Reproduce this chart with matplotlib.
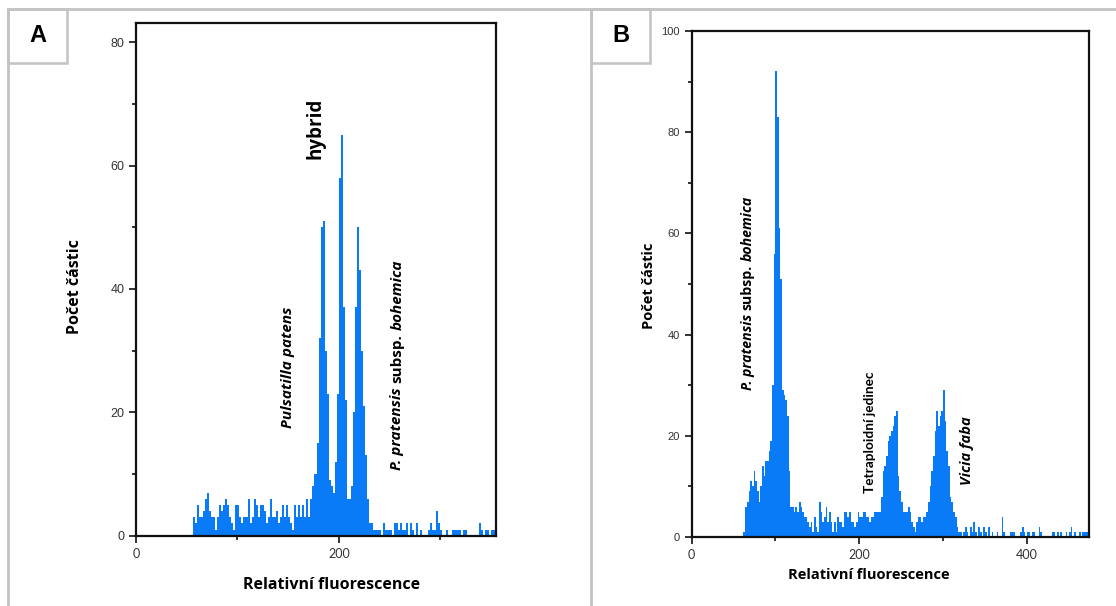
import matplotlib
matplotlib.use("Agg")
import matplotlib.pyplot as plt
import numpy as np
from matplotlib.transforms import offset_copy
from matplotlib.lines import Line2D
from matplotlib.patches import Rectangle

# ---------------------------------------------------------------- data
# Panel A: particle counts per fluorescence channel (bins of width 2 from 56)
a_start = 56
a_bin = 2
counts_a = [
    3, 2, 5, 3, 3, 4, 6, 7, 4, 3,
    3, 1, 3, 5, 4, 5, 6, 5, 3, 2,
    1, 5, 5, 3, 2, 3, 3, 6, 2, 3,
    6, 5, 3, 5, 5, 4, 2, 3, 6, 3,
    3, 4, 2, 3, 5, 3, 5, 3, 2, 1,
    5, 3, 5, 3, 5, 3, 6, 3, 6, 8,
    10, 15, 32, 50, 51, 30, 23, 9, 8, 7,
    12, 23, 58, 65, 37, 22, 6, 6, 8, 20,
    37, 50, 43, 30, 21, 13, 6, 2, 2, 1,
    1, 1, 1, 0, 2, 1, 1, 1, 0, 2,
    2, 1, 2, 1, 1, 2, 0, 2, 1, 0,
    2, 0, 1, 0, 0, 0, 1, 2, 1, 1,
    4, 2, 1, 0, 0, 1, 0, 0, 1, 1,
    1, 1, 0, 1, 1, 0, 0, 0, 0, 0,
    0, 2, 1, 0, 1, 1, 0, 1, 1,
]

# Panel B: particle counts per fluorescence channel (bins of width 2 from 62)
b_start = 62
b_bin = 2
counts_b = [
    1, 6, 7, 9, 11, 10, 13, 11, 9, 7,
    10, 14, 12, 15, 15, 17, 19, 30, 56, 92,
    83, 61, 51, 29, 28, 27, 24, 13, 6, 6,
    5, 6, 5, 7, 6, 5, 4, 4, 3, 2,
    3, 1, 4, 2, 1, 7, 5, 3, 4, 6,
    3, 5, 3, 1, 3, 1, 4, 3, 3, 2,
    5, 5, 4, 5, 3, 3, 2, 3, 5, 4,
    4, 5, 5, 4, 4, 3, 4, 4, 5, 5,
    5, 5, 8, 13, 14, 16, 19, 20, 21, 22,
    24, 25, 12, 9, 7, 5, 5, 5, 6, 5,
    3, 2, 1, 3, 4, 4, 3, 4, 4, 5,
    7, 10, 13, 16, 21, 25, 22, 24, 25, 29,
    23, 17, 14, 8, 7, 5, 4, 2, 1, 1,
    0, 1, 2, 1, 0, 2, 1, 3, 1, 0,
    2, 1, 0, 2, 1, 0, 2, 0, 1, 0,
    0, 1, 0, 0, 4, 1, 0, 0, 0, 1,
    1, 1, 0, 0, 0, 1, 2, 1, 0, 1,
    1, 0, 1, 1, 0, 0, 2, 1, 0, 0,
    0, 0, 0, 0, 1, 1, 0, 1, 0, 1,
    0, 0, 1, 0, 1, 2, 0, 1, 0, 0,
    1, 0, 1, 1, 1, 1,
]

xlabel_text = "Relativní fluorescence"
ylabel_text = "Počet částic"
a_xticks = [0, 200]
a_yticks = [0, 20, 40, 60, 80]
b_xticks = [0, 200, 400]
b_yticks = [0, 20, 40, 60, 80, 100]

# ---------------------------------------------------------------- style
W, H = 1116, 606
BLUE = "#0a7bf7"
FRAME = "#c3c3c3"
TICKCOL = "#333333"
LABEL_FONT = ["Open Sans", "DejaVu Sans"]
NOTE_FONT = ["Open Sans", "DejaVu Sans"]
NARROW_FONT = ["Lato", "DejaVu Sans"]

fig = plt.figure(figsize=(W / 100, H / 100), dpi=100)
fig.patch.set_facecolor("white")


def fx(px):
    return px / W


def fy(py):
    return 1 - py / H


# outer panel frames
for (x0, y0, x1, y1) in [(8, 9, 1116, 9), (8, 9, 8, 606), (591, 9, 591, 606)]:
    fig.add_artist(Line2D([fx(x0), fx(x1)], [fy(y0), fy(y1)],
                          transform=fig.transFigure, color=FRAME, lw=2))

# panel letter boxes
for letter, (x0, y0, x1, y1) in [("A", (8, 9, 67, 63)), ("B", (591, 9, 650, 63))]:
    fig.add_artist(Rectangle((fx(x0), fy(y1)), fx(x1) - fx(x0), fy(y0) - fy(y1),
                             transform=fig.transFigure, facecolor="white",
                             edgecolor=FRAME, lw=1.8))
    fig.text(fx((x0 + x1) / 2), fy((y0 + y1) / 2), letter, ha="center", va="center",
             fontsize=17, fontweight="bold", family=["Liberation Sans", "DejaVu Sans"])

axA = fig.add_axes([fx(136), fy(535.7), fx(496) - fx(136), fy(23) - fy(535.7)])
axB = fig.add_axes([fx(691.5), fy(537), fx(1089) - fx(691.5), fy(31) - fy(537)])

edges_a = a_start + a_bin * np.arange(len(counts_a))
axA.bar(edges_a, counts_a, width=a_bin, align="edge", color=BLUE, linewidth=0)
edges_b = b_start + b_bin * np.arange(len(counts_b))
axB.bar(edges_b, counts_b, width=b_bin, align="edge", color=BLUE, linewidth=0)

axA.set_xlim(0, 355)
axA.set_ylim(0, 83.1)
axA.set_xticks(a_xticks)
axA.set_xticks([100, 300], minor=True)
axA.set_yticks(a_yticks)
axA.set_yticks([10, 30, 50, 70], minor=True)

axB.set_xlim(0, 474)
axB.set_ylim(0, 100)
axB.set_xticks(b_xticks)
axB.set_xticks([100, 300], minor=True)
axB.set_yticks(b_yticks)
axB.set_yticks([10, 30, 50, 70, 90], minor=True)

for ax, fs in [(axA, 9), (axB, 8)]:
    for sp in ax.spines.values():
        sp.set_linewidth(1.6)
        sp.set_color("#111111")
    ax.tick_params(which="major", direction="out", length=5, width=1.2,
                   colors="#111111", labelcolor=TICKCOL)
    ax.tick_params(which="minor", direction="out", length=3, width=1.2, colors="#111111")
    for lab in ax.get_yticklabels():
        lab.set_fontfamily(["Liberation Sans", "DejaVu Sans"])
        lab.set_fontsize(fs)
    for lab in ax.get_xticklabels():
        lab.set_fontfamily(NARROW_FONT)
        lab.set_fontsize(9)

# axis titles
axA.set_xlabel(xlabel_text, fontsize=11.5, fontweight="bold", family=LABEL_FONT)
axA.set_ylabel(ylabel_text, fontsize=11.5, fontweight="bold", family=LABEL_FONT)
axA.xaxis.set_label_coords(0.544, -0.096)
axA.yaxis.set_label_coords(-0.169, 0.485)
axB.set_xlabel(xlabel_text, fontsize=10.5, fontweight="bold", family=LABEL_FONT)
axB.set_ylabel(ylabel_text, fontsize=10.5, fontweight="bold", family=LABEL_FONT)
axB.xaxis.set_label_coords(0.447, -0.075)
axB.yaxis.set_label_coords(-0.108, 0.496)
for ax in (axA, axB):
    ax.xaxis.label.set_va("center")
    ax.yaxis.label.set_va("center")

renderer = fig.canvas.get_renderer()


def vertical_label(ax, x, y, pieces, size, family):
    """Stack text pieces bottom-to-top, rotated 90 degrees, starting at (x, y)."""
    off = 0.0
    gap = 0.28 * size * fig.dpi / 72
    for txt, style in pieces:
        t = ax.text(x, y, txt, rotation=90, ha="center", va="bottom",
                    fontsize=size, fontstyle=style, fontweight="bold", family=family,
                    transform=offset_copy(ax.transData, fig=fig, x=0, y=off, units="dots"))
        off += t.get_window_extent(renderer).height + gap


vertical_label(axA, 149.5, 17.5, [("Pulsatilla patens", "italic")], 11, NOTE_FONT)
vertical_label(axA, 177, 61, [("hybrid", "normal")], 13.5, NOTE_FONT)
vertical_label(axA, 257.6, 10.6,
               [("P. pratensis", "italic"), ("subsp.", "normal"), ("bohemica", "italic")],
               11, NOTE_FONT)

vertical_label(axB, 67, 29,
               [("P. pratensis", "italic"), ("subsp.", "normal"), ("bohemica", "italic")],
               10.2, NOTE_FONT)
vertical_label(axB, 213, 8.7, [("Tetraploidní jedinec", "normal")], 9.8, NARROW_FONT)
vertical_label(axB, 329, 10.3, [("Vicia faba", "italic")], 10.5, NOTE_FONT)

fig.savefig("out.png", dpi=100, facecolor="white")
